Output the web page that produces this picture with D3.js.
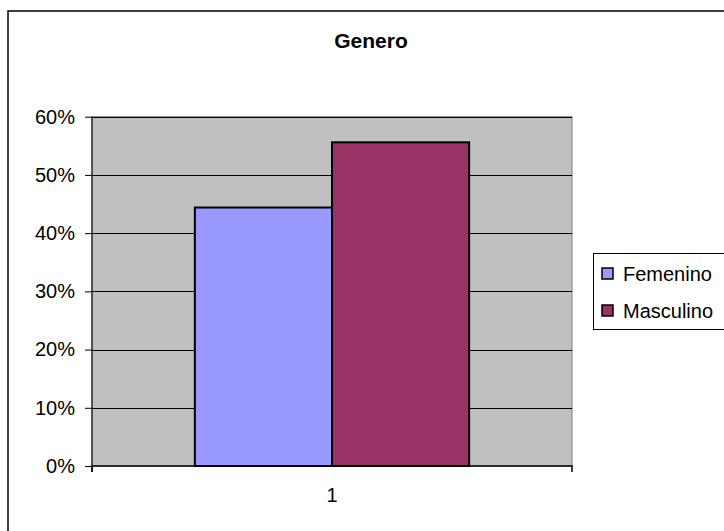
<!DOCTYPE html>
<html>
<head>
<meta charset="utf-8">
<script src="https://cdn.jsdelivr.net/npm/d3@7"></script>
<style>
  html, body { margin: 0; padding: 0; background: #fff; }
  svg { display: block; font-family: "Liberation Sans", Arial, sans-serif; }
</style>
</head>
<body>
<svg id="chart" width="724" height="531"></svg>
<script>
// Chart data
const categories = ["1"];
const seriesNames = ["Femenino", "Masculino"];
const seriesValues = [0.444, 0.556];
const seriesColors = ["#9999ff", "#993366"];
const yTicks = [0, 0.1, 0.2, 0.3, 0.4, 0.5, 0.6];
const title = "Genero";

const svg = d3.select("#chart");

// Chart area frame (runs past the right and bottom edges of the view)
svg.append("rect")
  .attr("x", 8).attr("y", 11)
  .attr("width", 740).attr("height", 540)
  .attr("fill", "#fff").attr("stroke", "#000").attr("stroke-width", 1.5);

const plot = { left: 92, right: 572, top: 116.7, bottom: 466 };

const x = d3.scaleBand().domain(categories).range([plot.left, plot.right]);
const y = d3.scaleLinear().domain([0, 0.6]).range([plot.bottom, plot.top]);

// Plot background
svg.append("rect")
  .attr("x", plot.left).attr("y", plot.top)
  .attr("width", plot.right - plot.left).attr("height", plot.bottom - plot.top)
  .attr("fill", "#c0c0c0").attr("stroke", "#808080").attr("stroke-width", 1);

// Horizontal gridlines
svg.append("g")
  .selectAll("line")
  .data(yTicks.filter(d => d > 0))
  .join("line")
  .attr("x1", plot.left).attr("x2", plot.right)
  .attr("y1", d => Math.round(y(d)) + 0.5).attr("y2", d => Math.round(y(d)) + 0.5)
  .attr("stroke", "#000").attr("stroke-width", 1);

// Bars: gap width of 150% of a bar, two bars per category
const band = x.bandwidth();
const barW = band / 3.5;
const xSeries = d3.scaleBand().domain(seriesNames)
  .range([0, 2 * barW]).padding(0);

const groups = svg.append("g")
  .selectAll("g")
  .data(categories)
  .join("g")
  .attr("transform", d => `translate(${x(d) + 0.75 * barW},0)`);

groups.selectAll("rect")
  .data(() => seriesNames.map((s, i) => ({ s, v: seriesValues[i], c: seriesColors[i] })))
  .join("rect")
  .attr("x", d => xSeries(d.s))
  .attr("y", d => y(d.v))
  .attr("width", xSeries.bandwidth())
  .attr("height", d => y(0) - y(d.v))
  .attr("fill", d => d.c)
  .attr("stroke", "#000")
  .attr("stroke-width", 2);

// Y axis
const yAxis = d3.axisLeft(y)
  .tickValues(yTicks)
  .tickFormat(d3.format(".0%"))
  .tickSizeInner(7)
  .tickSizeOuter(0)
  .tickPadding(10);

const yg = svg.append("g")
  .attr("transform", `translate(${plot.left},0)`)
  .call(yAxis);
yg.select(".domain").attr("stroke", "#333").attr("stroke-width", 1.5)
  .attr("d", `M0,${plot.top}V${plot.bottom + 6}`);
yg.selectAll(".tick line").attr("stroke", "#000");
yg.selectAll("text")
  .attr("font-size", 20).attr("fill", "#000")
  .attr("font-family", "Liberation Sans, Arial, sans-serif");

// X axis
const xAxis = d3.axisBottom(x).tickSize(0).tickPadding(22);
const xg = svg.append("g")
  .attr("transform", `translate(0,${plot.bottom})`)
  .call(xAxis);
xg.select(".domain").attr("stroke", "#000").attr("stroke-width", 1.5)
  .attr("d", `M${plot.left},6V0H${plot.right}V6`);
xg.selectAll("text")
  .attr("font-size", 20).attr("fill", "#000")
  .attr("font-family", "Liberation Sans, Arial, sans-serif");

// Title
svg.append("text")
  .attr("x", 371).attr("y", 48)
  .attr("text-anchor", "middle")
  .attr("font-size", 21).attr("font-weight", "bold")
  .text(title);

// Legend
const legend = svg.append("g").attr("transform", "translate(593.5,253.5)");
legend.append("rect")
  .attr("width", 140).attr("height", 76)
  .attr("fill", "#fff").attr("stroke", "#000").attr("stroke-width", 1);

const items = legend.selectAll("g.item")
  .data(seriesNames)
  .join("g")
  .attr("class", "item")
  .attr("transform", (d, i) => `translate(0,${20 + i * 37})`);

items.append("rect")
  .attr("x", 8.5).attr("y", -5.5)
  .attr("width", 11).attr("height", 11)
  .attr("fill", (d, i) => seriesColors[i])
  .attr("stroke", "#000").attr("stroke-width", 1.5);

items.append("text")
  .attr("x", 29.5).attr("y", 7)
  .attr("font-size", 20)
  .text(d => d);
</script>
</body>
</html>
